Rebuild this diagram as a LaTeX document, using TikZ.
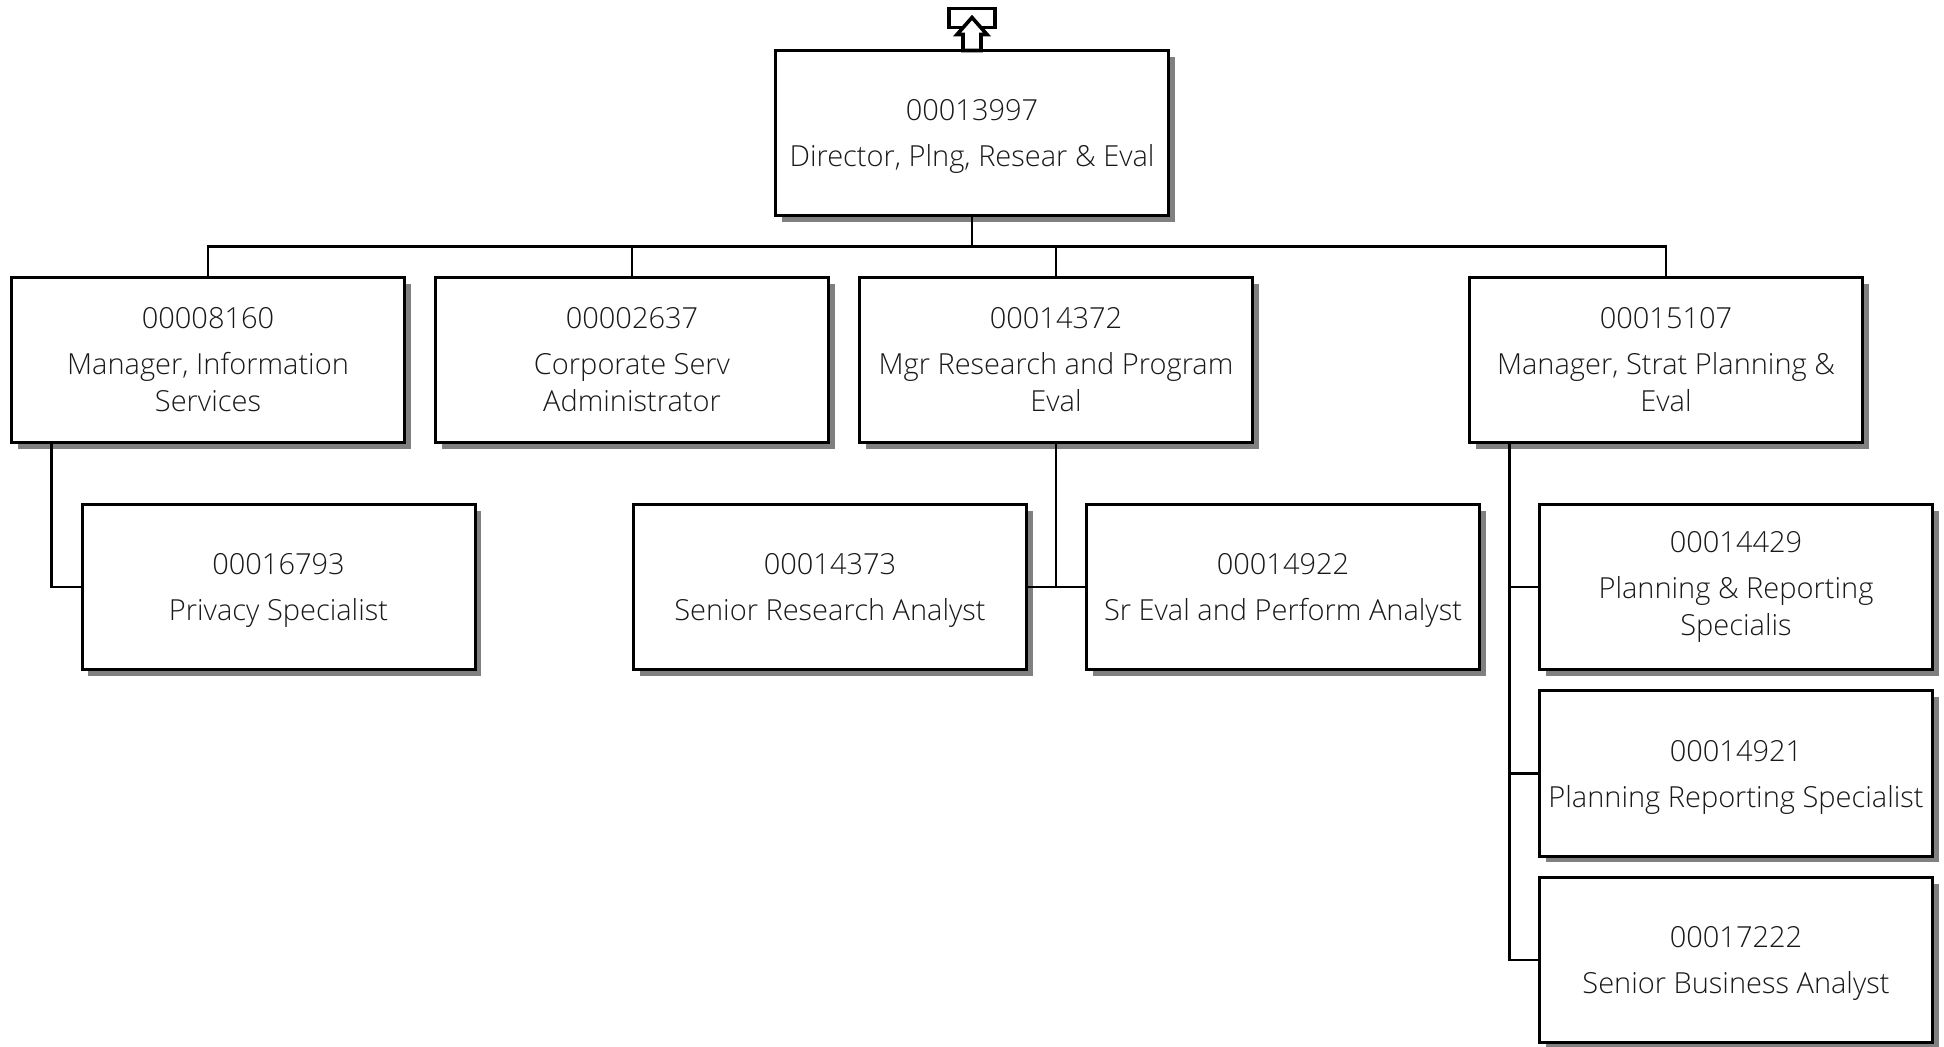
\documentclass[tikz,border=0pt]{standalone}
\usepackage{fontspec}
\setmainfont{Open Sans Light}
\usetikzlibrary{positioning, shadows}

\newcommand{\posn}[2]{#1\\[4.5pt]#2}

\begin{document}
\begin{tikzpicture}[node distance=113.5pt,
	posbox/.style={draw,line width=1.5pt,fill=white,outer sep=0pt,minimum width=196.5pt,minimum height=82.5pt,
		align=center,font=\fontsize{14.5}{18.5}\selectfont,text=black!90,
		drop shadow={shadow xshift=3.1pt,shadow yshift=-3.1pt,fill=black!50,opacity=1}},
	lowtext/.style={text height=37pt},
	link/.style={line width=1.4pt},
	upmark/.style={draw,line width=1.8pt,fill=white,line join=miter}]
	\useasboundingbox (0,0) rectangle (972pt,-523.5pt);

	\node[posbox] (m1) at (104pt,-180pt) {\posn{00008160}{Manager, Information\\Services}};
	\node[posbox] (m2) [right of=m1,node distance=212pt] {\posn{00002637}{Corporate Serv\\Administrator}};
	\node[posbox] (m3) [right of=m2,node distance=212pt] {\posn{00014372}{Mgr Research and Program\\Eval}};
	\node[posbox] (m4) [right of=m3,node distance=305pt] {\posn{00015107}{Manager, Strat Planning \&\\Eval}};

	\node[posbox,lowtext] (d) [above of=m3,xshift=-42pt] {\posn{00013997}{Director, Plng, Resear \& Eval}};

	\node[posbox,lowtext] (s1) [below of=m1,xshift=35.25pt] {\posn{00016793}{Privacy Specialist}};
	\node[posbox,lowtext] (s2) [below of=m3,xshift=-113pt] {\posn{00014373}{Senior Research Analyst}};
	\node[posbox,lowtext] (s3) [below of=m3,xshift=113.5pt] {\posn{00014922}{Sr Eval and Perform Analyst}};
	\node[posbox] (s4) [below of=m4,xshift=35pt] {\posn{00014429}{Planning \& Reporting\\Specialis}};
	\node[posbox,lowtext] (s5) [below of=s4,node distance=93.25pt] {\posn{00014921}{Planning Reporting Specialist}};
	\node[posbox,lowtext] (s6) [below of=s5,node distance=93.25pt] {\posn{00017222}{Senior Business Analyst}};

	\node[draw,line width=1.8pt,minimum width=23pt,minimum height=9.5pt,outer sep=0pt] (up) [above=11.5pt of d] {};

	\coordinate[below=15.5pt of d] (bus);
	\coordinate (m1t) at ([xshift=20pt]m1.south west);
	\coordinate (m4t) at ([xshift=20pt]m4.south west);

	\draw[link] (d) -- (bus);
	\draw[link] (bus) -| (m1);
	\draw[link] (bus) -| (m2);
	\draw[link] (bus) -| (m3);
	\draw[link] (bus) -| (m4);

	\draw[link] (m1t) |- (s1);
	\draw[link] (m3) |- (s2);
	\draw[link] (m3) |- (s3);
	\draw[link] (m4t) |- (s4);
	\draw[link] (m4t) |- (s5);
	\draw[link] (m4t) |- (s6);

	\draw[upmark] (d.north) ++(-4.5pt,0) -- ++(0,8pt) -- ++(-3pt,0) -- ++(7.5pt,8.5pt) -- ++(7.5pt,-8.5pt) -- ++(-3pt,0) -- ++(0,-8pt) -- cycle;
\end{tikzpicture}
\end{document}
